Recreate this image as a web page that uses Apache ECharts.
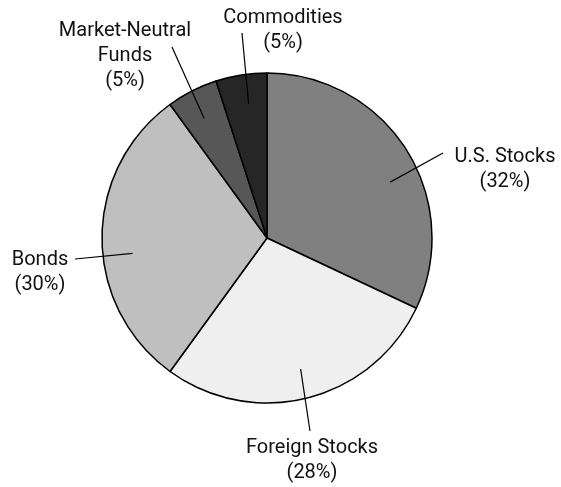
<!DOCTYPE html>
<html>
<head>
<meta charset="utf-8">
<script src="https://cdn.jsdelivr.net/npm/echarts@6/dist/echarts.min.js"></script>
<style>html,body{margin:0;padding:0;background:#fff}#c{width:561px;height:487px}</style>
</head>
<body>
<div id="c"></div>
<script>
// ---- data ----
const categories = ['U.S. Stocks', 'Foreign Stocks', 'Bonds', 'Market-Neutral\nFunds', 'Commodities'];
const percents = [32, 28, 30, 5, 5];

// ---- style ----
const sliceColors = ['#808080', '#efefef', '#bfbfbf', '#575757', '#262626'];
const CENTER = [267, 238];
const RADIUS = 165;
// label block centres (px) and outer leader-line ends (px), inner end angle offset (deg)
const labelCenters = [[505, 169], [312, 460], [40, 272], [125, 56], [283, 30]];
const lineOuter = [[443, 153], [310, 431], [75, 259], [172, 47], [242, 33]];
const innerAngleOffset = [8, 0, -6.5, -0.7, 1.2];
const innerRadiusFrac = 0.82;

const total = percents.reduce((a, b) => a + b, 0);
const midAngles = [];
let acc = 0;
percents.forEach(p => { midAngles.push((acc + p / 2) / total * 360); acc += p; });

const pieData = categories.map((n, i) => ({ name: n, value: percents[i], itemStyle: { color: sliceColors[i] } }));

const chart = echarts.init(document.getElementById('c'), null, { renderer: 'canvas' });
chart.setOption({
  animation: false,
  backgroundColor: '#fff',
  series: [{
    type: 'pie',
    z: 1,
    center: CENTER,
    radius: RADIUS,
    startAngle: 90,
    clockwise: true,
    data: pieData,
    itemStyle: { borderColor: '#000', borderWidth: 1.5 },
    emphasis: { disabled: true },
    label: { show: false },
    labelLine: { show: false }
  }, {
    type: 'pie',
    z: 5,
    silent: true,
    center: CENTER,
    radius: RADIUS,
    startAngle: 90,
    clockwise: true,
    avoidLabelOverlap: false,
    data: categories.map((n, i) => ({ name: n, value: percents[i] })),
    itemStyle: { color: 'rgba(0,0,0,0)', borderWidth: 0 },
    emphasis: { disabled: true },
    label: {
      show: true,
      position: 'outside',
      formatter: '{b}\n({c}%)',
      fontFamily: 'Roboto, "Noto Sans", sans-serif',
      fontSize: 20,
      lineHeight: 25,
      color: '#111',
      align: 'center'
    },
    labelLine: { show: true, length: 20, length2: 0, lineStyle: { color: '#000', width: 1.2 } },
    labelLayout: function (params) {
      const i = params.dataIndex;
      const a = (midAngles[i] + innerAngleOffset[i]) * Math.PI / 180;
      const r = RADIUS * innerRadiusFrac;
      const inner = [CENTER[0] + r * Math.sin(a), CENTER[1] - r * Math.cos(a)];
      return {
        x: labelCenters[i][0],
        y: labelCenters[i][1],
        align: 'center',
        verticalAlign: 'middle',
        labelLinePoints: [inner, lineOuter[i], lineOuter[i]]
      };
    }
  }]
});
</script>
</body>
</html>
